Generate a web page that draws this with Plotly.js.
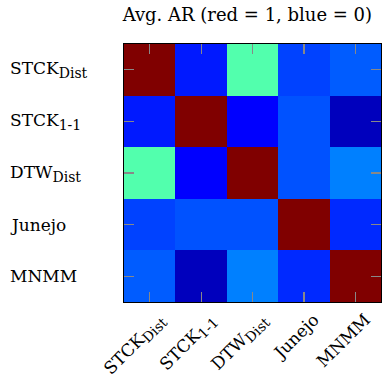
<!DOCTYPE html>
<html>
<head>
<meta charset="utf-8">
<script src="https://cdn.plot.ly/plotly-3.0.1.min.js"></script>
<style>html,body{margin:0;padding:0;background:#fff;}#chart{width:389px;height:384px;}</style>
</head>
<body>
<div id="chart"></div>
<script>
var methods = ["STCK_Dist", "STCK_1-1", "DTW_Dist", "Junejo", "MNMM"];
var tickLabels = ["STCK<sub><span style='font-size:14px'>Dist</span></sub>",
                  "STCK<sub><span style='font-size:14px'>1-1</span></sub>",
                  "DTW<sub><span style='font-size:14px'>Dist</span></sub>", "Junejo", "MNMM"];
var rowSTCKDist = [1.00, 0.15, 0.455, 0.19, 0.215];
var rowSTCK11   = [0.15, 1.00, 0.125, 0.205, 0.06];
var rowDTWDist  = [0.455, 0.125, 1.00, 0.205, 0.25];
var rowJunejo   = [0.19, 0.205, 0.205, 1.00, 0.165];
var rowMNMM     = [0.215, 0.06, 0.25, 0.165, 1.00];

var z = [rowSTCKDist, rowSTCK11, rowDTWDist, rowJunejo, rowMNMM];
var idx = [0, 1, 2, 3, 4];

var jet = [[0, 'rgb(0,0,128)'], [0.125, 'rgb(0,0,255)'], [0.375, 'rgb(0,255,255)'],
           [0.625, 'rgb(255,255,0)'], [0.875, 'rgb(255,0,0)'], [1, 'rgb(128,0,0)']];

var font = {family: 'DejaVu Serif', size: 17, color: '#000'};

var axisCommon = {
  tickvals: idx, ticktext: tickLabels,
  ticks: 'inside', ticklen: 10, tickwidth: 1.2, tickcolor: '#888',
  showline: true, linecolor: '#000', linewidth: 1, mirror: 'ticks',
  showgrid: false, zeroline: false, tickfont: font
};

var data = [{
  type: 'heatmap', z: z, x: idx, y: idx,
  colorscale: jet, zmin: 0, zmax: 1, showscale: false, hoverinfo: 'skip'
}];

// y-axis labels, left aligned like the reference
var annotations = idx.map(function (i) {
  return {text: tickLabels[i], xref: 'paper', x: -116 / 257, xanchor: 'left',
          yref: 'y', y: i, yanchor: 'middle', showarrow: false, font: font};
});

var layout = {
  width: 389, height: 384,
  margin: {l: 124, r: 8, t: 44, b: 82},
  paper_bgcolor: '#fff', plot_bgcolor: '#fff',
  title: {text: 'Avg. AR (red = 1, blue = 0)', font: {family: 'DejaVu Serif', size: 18, color: '#000'},
          x: 0.48, xref: 'paper', xanchor: 'center', y: 1 - 15/384, yref: 'container', yanchor: 'middle'},
  xaxis: Object.assign({}, axisCommon, {range: [-0.5, 4.5], tickangle: -45, ticklabelstandoff: 0, ticklabelshift: 10}),
  yaxis: Object.assign({}, axisCommon, {range: [4.5, -0.5], showticklabels: false}),
  annotations: annotations
};

Plotly.newPlot('chart', data, layout, {staticPlot: true, displayModeBar: false});
</script>
</body>
</html>
